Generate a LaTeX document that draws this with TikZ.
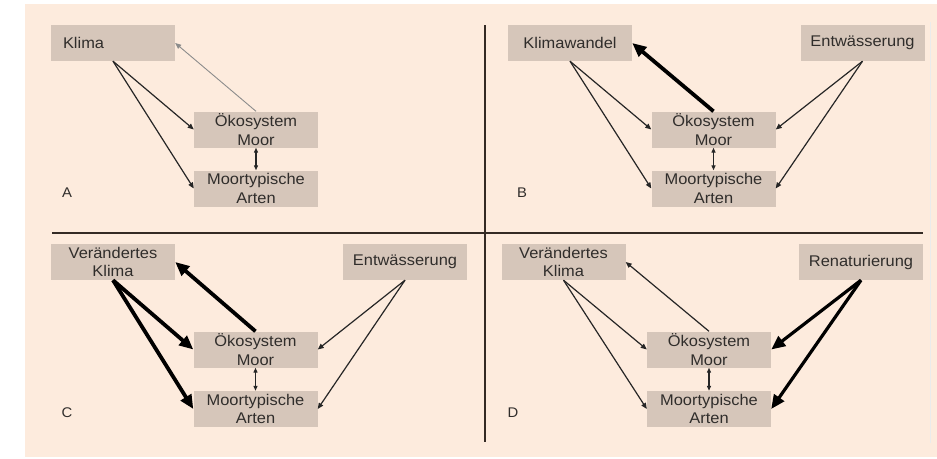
\documentclass[tikz,border=0pt]{standalone}
\usepackage{fontspec}
\setmainfont[FakeStretch=1.06]{Liberation Sans}
\usepackage{xcolor}
\usetikzlibrary{arrows.meta,positioning}
\definecolor{moorbg}{RGB}{253,235,221}
\definecolor{moorbox}{RGB}{214,198,186}
\definecolor{moortext}{RGB}{48,45,43}
\definecolor{moorline}{RGB}{52,42,36}

\begin{document}
\begin{tikzpicture}[x=1pt,y=-1pt,
    every node/.style={font=\fontsize{15.5}{18.5}\selectfont, text=moortext},
    box/.style={fill=moorbox, minimum width=124pt, minimum height=36pt, inner sep=2pt, align=center},
    panellabel/.style={font=\fontsize{14}{16}\selectfont},
    arr/.style={-{Triangle[length=6pt,width=5pt]}, line width=1.2pt, draw=black!85},
    faintarr/.style={-{Triangle[length=6pt,width=5pt]}, line width=0.9pt, draw=black!45},
    boldarr/.style={-{Triangle[length=14pt,width=12pt]}, line width=3.8pt, draw=black},
    dblarr/.style={{Triangle[length=5pt,width=4pt]}-{Triangle[length=5pt,width=4pt]}, line width=1.2pt, draw=black!85}]
\useasboundingbox (0,0) rectangle (937,458);
\fill[white] (0,0) rectangle (937,458);
\fill[moorbg] (25,4) rectangle (937,457);
% dividers
\draw[moorline, line width=2pt] (52,233) -- (923,233);
\draw[moorline, line width=2pt] (485,25) -- (485,442);
\draw[black!8, line width=1pt] (930,22) -- (930,443);

% --- A ---
\node[box, text width=100pt, align=left] (klimaA) at (113,43) {Klima};
\node[box] (oekoA) at (256,129.5) {Ökosystem\\Moor};
\node[box] (artenA) at (256,188.5) {Moortypische\\Arten};
\node[panellabel] (labA) at (67,193) {A};
\draw[arr] (klimaA.south) -- (oekoA.west);
\draw[arr] (klimaA.south) -- (artenA.west);
\draw[faintarr] (oekoA.north) -- (klimaA.east);
\draw[dblarr] (oekoA.south) -- (artenA.north);

% --- B ---
\node[box] (klimaB) at (570,43) {Klimawandel};
\node[box] (entwB) at (862.5,43) {Entwässerung};
\node[box] (oekoB) at (713.5,129.5) {Ökosystem\\Moor};
\node[box] (artenB) at (713.5,188.5) {Moortypische\\Arten};
\node[panellabel] (labB) at (522,193) {B};
\draw[arr] (klimaB.south) -- (oekoB.west);
\draw[arr] (klimaB.south) -- (artenB.west);
\draw[arr] (entwB.south) -- (oekoB.east);
\draw[arr] (entwB.south) -- (artenB.east);
\draw[boldarr] (oekoB.north) -- (klimaB.east);
\draw[dblarr] (oekoB.south) -- (artenB.north);

% --- C ---
\node[box] (klimaC) at (113,262) {Verändertes\\Klima};
\node[box] (entwC) at (405,262) {Entwässerung};
\node[box] (oekoC) at (255.5,349.5) {Ökosystem\\Moor};
\node[box] (artenC) at (255.5,409) {Moortypische\\Arten};
\node[panellabel] (labC) at (67,413) {C};
\draw[boldarr] (klimaC.south) -- (oekoC.west);
\draw[boldarr] (klimaC.south) -- (artenC.west);
\draw[boldarr] (oekoC.north) -- (klimaC.east);
\draw[arr] (entwC.south) -- (oekoC.east);
\draw[arr] (entwC.south) -- (artenC.east);
\draw[dblarr] (oekoC.south) -- (artenC.north);

% --- D ---
\node[box] (klimaD) at (563.5,262) {Verändertes\\Klima};
\node[box] (renD) at (861,262) {Renaturierung};
\node[box] (oekoD) at (709,349.5) {Ökosystem\\Moor};
\node[box] (artenD) at (709,409) {Moortypische\\Arten};
\node[panellabel] (labD) at (513,413) {D};
\draw[arr] (klimaD.south) -- (oekoD.west);
\draw[arr] (klimaD.south) -- (artenD.west);
\draw[arr] (oekoD.north) -- (klimaD.east);
\draw[boldarr, line width=3.2pt] (renD.south) -- (oekoD.east);
\draw[boldarr, line width=3.2pt] (renD.south) -- (artenD.east);
\draw[dblarr] (oekoD.south) -- (artenD.north);
\end{tikzpicture}
\end{document}
